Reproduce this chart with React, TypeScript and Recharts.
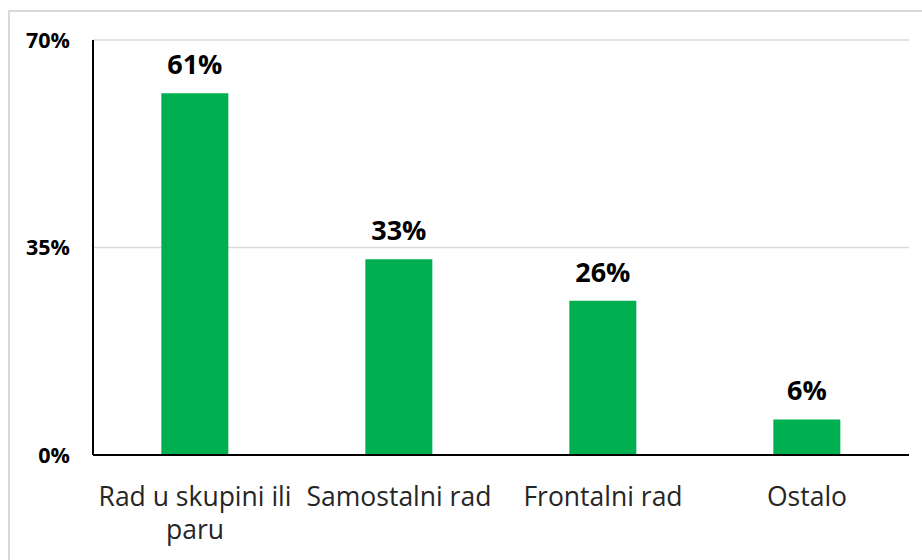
import { BarChart, Bar, XAxis, YAxis, CartesianGrid, LabelList } from 'recharts';

const categories = ['Rad u skupini ili paru', 'Samostalni rad', 'Frontalni rad', 'Ostalo'];
const shares = [61, 33, 26, 6];
const yTicks = [0, 35, 70];

const data = categories.map((name, i) => ({ name, value: shares[i] }));

const FONT = '"Open Sans", Lato, sans-serif';
const CAT_SIZE = 26.5;

let ctx: CanvasRenderingContext2D | null = null;
function measure(s: string) {
  if (!ctx) ctx = document.createElement('canvas').getContext('2d');
  if (!ctx) return s.length * CAT_SIZE * 0.5;
  ctx.font = `${CAT_SIZE}px ${FONT}`;
  return ctx.measureText(s).width;
}

function wrap(label: string, maxWidth: number) {
  const lines: string[] = [];
  let cur = '';
  for (const w of label.split(' ')) {
    const next = cur ? `${cur} ${w}` : w;
    if (cur && measure(next) > maxWidth) {
      lines.push(cur);
      cur = w;
    } else {
      cur = next;
    }
  }
  if (cur) lines.push(cur);
  return lines;
}

function CategoryTick(props: any) {
  const { x, y, payload } = props;
  const lines = wrap(String(payload.value), 200);
  return (
    <text
      x={x}
      y={y + 43}
      textAnchor="middle"
      fontSize={CAT_SIZE}
      fontFamily={FONT}
      fill="#262626"
    >
      {lines.map((l, i) => (
        <tspan key={i} x={x} dy={i === 0 ? 0 : 33}>
          {l}
        </tspan>
      ))}
    </text>
  );
}

export default function App() {
  return (
    <div style={{ position: 'absolute', left: 0, top: 0, width: 922, height: 560, background: '#fff', overflow: 'hidden' }}>
      <div
        style={{
          position: 'absolute',
          left: 8,
          top: 10,
          width: 930,
          height: 570,
          borderLeft: '2px solid #d9d9d9',
          borderTop: '2px solid #d9d9d9',
        }}
      />
      <BarChart
        width={922}
        height={560}
        data={data}
        margin={{ top: 40, right: 13, bottom: 0, left: 0 }}
        barCategoryGap="33.5%"
        style={{ position: 'absolute', left: 0, top: 0 }}
      >
        <CartesianGrid vertical={false} stroke="#d9d9d9" strokeWidth={1.5} />
        <XAxis
          dataKey="name"
          axisLine={{ stroke: '#000', strokeWidth: 2 }}
          tickLine={false}
          tick={<CategoryTick />}
          height={105}
          interval={0}
        />
        <YAxis
          domain={[0, 70]}
          ticks={yTicks}
          tickFormatter={(v: number) => `${v}%`}
          axisLine={{ stroke: '#000', strokeWidth: 2 }}
          tickLine={false}
          width={93}
          tickMargin={17}
          tick={{ fontSize: 21.5, fontWeight: 700, fontFamily: FONT, fill: '#000' }}
        />
        <Bar dataKey="value" fill="#00B050" isAnimationActive={false}>
          <LabelList
            dataKey="value"
            position="top"
            offset={19}
            formatter={(v: any) => `${v}%`}
            style={{ fontSize: 27, fontWeight: 700, fontFamily: FONT, fill: '#000' }}
          />
        </Bar>
      </BarChart>
    </div>
  );
}
